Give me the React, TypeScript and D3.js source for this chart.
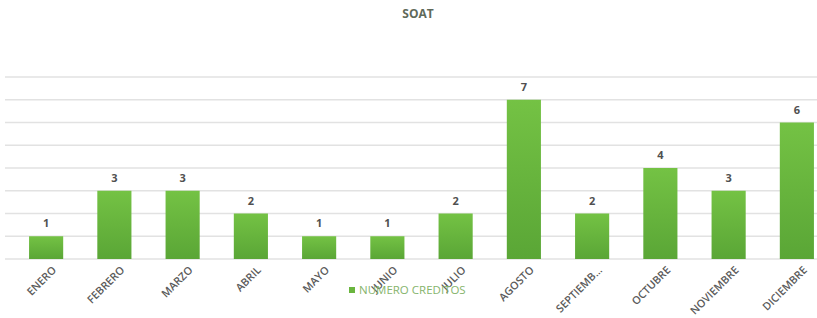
import * as d3 from 'd3'

const months = ['ENERO', 'FEBRERO', 'MARZO', 'ABRIL', 'MAYO', 'JUNIO', 'JULIO', 'AGOSTO', 'SEPTIEMB...', 'OCTUBRE', 'NOVIEMBRE', 'DICIEMBRE']
const creditos = [1, 3, 3, 2, 1, 1, 2, 7, 2, 4, 3, 6]
const yTicks = [0, 1, 2, 3, 4, 5, 6, 7, 8]

const W = 817
const H = 318

export default function App() {
	const x = d3.scaleBand<string>().domain(months).range([12, 831]).paddingInner(0.5).paddingOuter(0.25)
	const y = d3.scaleLinear().domain([0, 8]).range([259, 77])

	return (
		<svg width={W} height={H} style={{ position: 'absolute', left: 0, top: 0, background: '#fff' }}>
			<defs>
				<linearGradient id="barFill" x1="0" y1="0" x2="0" y2="1">
					<stop offset="0%" stopColor="#74c244" />
					<stop offset="100%" stopColor="#5aa636" />
				</linearGradient>
			</defs>
			<text x={418} y={18} textAnchor="middle" fontFamily="Open Sans, sans-serif" fontWeight="bold" fontSize={12} fill="#5f6a5a">
				SOAT
			</text>
			{/* gridlines */}
			{yTicks.map(t => (
				<line key={t} x1={5} x2={W} y1={y(t)} y2={y(t)} stroke="#e2e2e2" strokeWidth={1.5} />
			))}
			{months.map((m, i) => {
				const bx = x(m)!
				const cx = bx + x.bandwidth() / 2
				return (
					<g key={m}>
						<rect x={bx} y={y(creditos[i])} width={x.bandwidth()} height={y(0) - y(creditos[i])} fill="url(#barFill)" />
						<text x={cx} y={y(creditos[i]) - 9} textAnchor="middle" fontFamily="Open Sans, sans-serif" fontWeight="bold" fontSize={11} fill="#505050">
							{creditos[i]}
						</text>
						<text
							transform={`translate(${cx + 4},${y(0) + 5}) rotate(-45)`}
							textAnchor="end"
							dominantBaseline="hanging"
							fontFamily="Open Sans, sans-serif"
							fontWeight={600}
							fontSize={10.8}
							fill="#5a5a5a"
						>
							{m}
						</text>
					</g>
				)
			})}
			{/* legend */}
			<rect x={349} y={287} width={6} height={6} fill="#6ab53e" />
			<text x={359} y={294} fontFamily="Open Sans, sans-serif" fontSize={11.5} fill="#86b46c">
				NUMERO CREDITOS
			</text>
		</svg>
	)
}
